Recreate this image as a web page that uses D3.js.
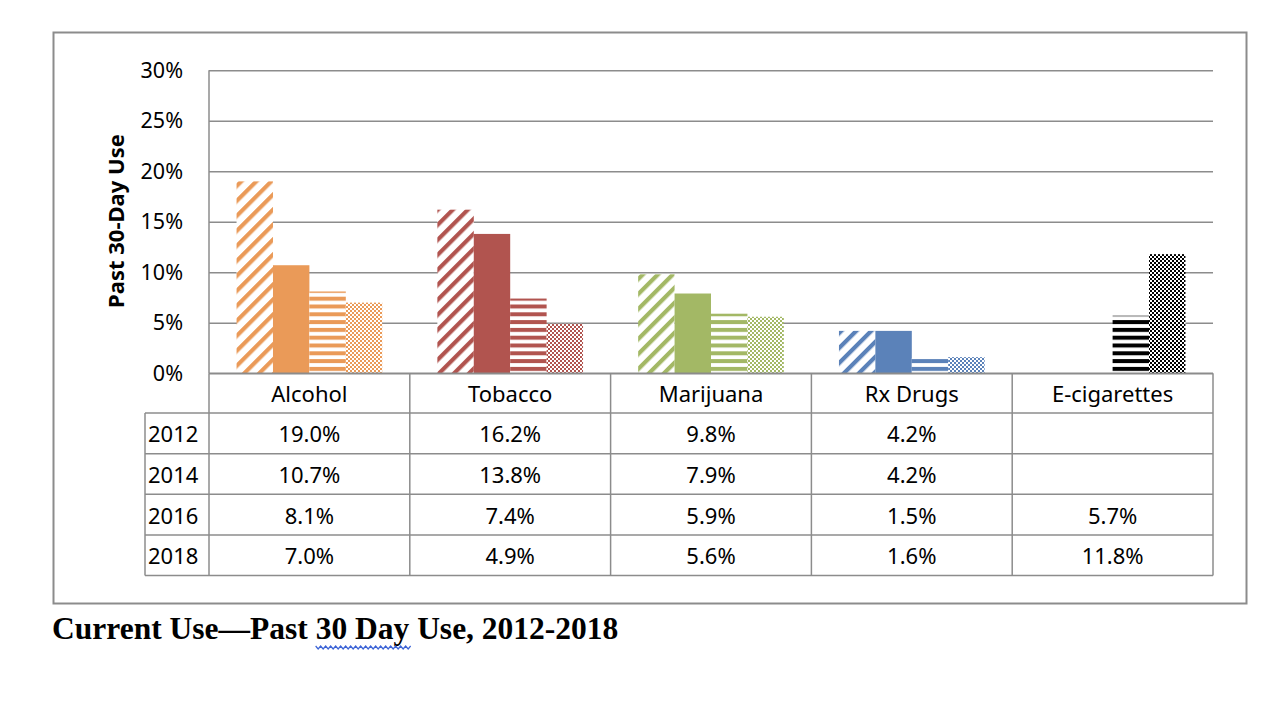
<!DOCTYPE html>
<html><head><meta charset="utf-8">
<script src="https://cdn.jsdelivr.net/npm/d3@7"></script>
<style>body{margin:0;background:#fff} svg{display:block}</style>
</head><body><svg id="c" width="1288" height="710"></svg>
<script>
const categories = ["Alcohol","Tobacco","Marijuana","Rx Drugs","E-cigarettes"];
const years = ["2012","2014","2016","2018"];
const v2012 = [19.0,16.2,9.8,4.2,null];
const v2014 = [10.7,13.8,7.9,4.2,null];
const v2016 = [8.1,7.4,5.9,1.5,5.7];
const v2018 = [7.0,4.9,5.6,1.6,11.8];
const yTicks = [0,5,10,15,20,25,30];
const categoryColors = ["#EA9A58","#B1544F","#A3B865","#5B82B9","#000000"];
const patternKinds = ["diag","solid","horiz","check"];
const titleText = "Current Use—Past 30 Day Use, 2012-2018";
const yTitle = "Past 30-Day Use";

const series = [v2012, v2014, v2016, v2018];
const svg = d3.select("#c");
const gray = "#8c8c8c";
const L = 209, R = 1213, T = 70.3, B = 373.3;
const font = "'Noto Sans', sans-serif";

// outer frame
svg.append("rect").attr("x",53.5).attr("y",32.5).attr("width",1193).attr("height",571)
  .attr("fill","none").attr("stroke",gray).attr("stroke-width",2);

// patterns
const defs = svg.append("defs");
categoryColors.forEach((col,ci)=>{
  const pd = defs.append("pattern").attr("id",`p${ci}_diag`).attr("patternUnits","userSpaceOnUse")
    .attr("width",10.6).attr("height",10.6).attr("patternTransform","rotate(-45)");
  pd.append("rect").attr("width",10.6).attr("height",10.6).attr("fill","#fff");
  pd.append("rect").attr("width",10.6).attr("height",4.2).attr("fill",col);
  const ph = defs.append("pattern").attr("id",`p${ci}_horiz`).attr("patternUnits","userSpaceOnUse")
    .attr("width",8).attr("height",7.8).attr("y",0.3);
  ph.append("rect").attr("width",8).attr("height",7.8).attr("fill","#fff");
  ph.append("rect").attr("width",8).attr("height",4).attr("fill",col);
  const pc = defs.append("pattern").attr("id",`p${ci}_check`).attr("patternUnits","userSpaceOnUse")
    .attr("width",4).attr("height",4);
  pc.append("rect").attr("width",4).attr("height",4).attr("fill","#fff");
  pc.append("rect").attr("width",2).attr("height",2).attr("fill",col);
  pc.append("rect").attr("x",2).attr("y",2).attr("width",2).attr("height",2).attr("fill",col);
});

const x0 = d3.scaleBand().domain(categories).range([L,R]).paddingInner(0.2745).paddingOuter(0.13725);
const x1 = d3.scaleBand().domain(years).range([0, x0.bandwidth()]);
const y = d3.scaleLinear().domain([0,30]).range([B,T]);

// gridlines + tick labels
const yAxis = d3.axisLeft(y).tickValues(yTicks).tickSize(-(R-L)).tickPadding(26).tickFormat(d=>d+"%");
const ga = svg.append("g").attr("transform",`translate(${L},0)`).call(yAxis);
ga.select(".domain").remove();
ga.selectAll(".tick line").attr("stroke",gray).attr("stroke-width",1.5);
ga.selectAll(".tick text").attr("font-family",font).attr("font-size",21.5).attr("fill","#000");
svg.append("line").attr("x1",L).attr("x2",L).attr("y1",T).attr("y2",B).attr("stroke",gray).attr("stroke-width",1.5);

// bars
const data = [];
categories.forEach((c,ci)=>{
  years.forEach((yr,yi)=>{
    const v = series[yi][ci];
    if(v!=null) data.push({c,ci,yr,yi,v});
  });
});
svg.append("g").selectAll("rect").data(data).join("rect")
  .attr("x",d=>x0(d.c)+x1(d.yr))
  .attr("width",x1.bandwidth())
  .attr("y",d=>y(d.v))
  .attr("height",d=>y(0)-y(d.v))
  .attr("fill",d=>patternKinds[d.yi]==="solid" ? categoryColors[d.ci] : `url(#p${d.ci}_${patternKinds[d.yi]})`);

// data table
const halfGap = (x0.step()-x0.bandwidth())/2;
const edges = categories.map(c=>x0(c)-halfGap).concat([R]);
const headTop = B, headBot = 413, tableBot = 575.5, yearLeft = 145;
const rowH = (tableBot-headBot)/years.length;
const tg = svg.append("g");
const line = (x1_,y1_,x2_,y2_)=>tg.append("line").attr("x1",x1_).attr("y1",y1_).attr("x2",x2_).attr("y2",y2_)
  .attr("stroke",gray).attr("stroke-width",1.5);
line(L,headTop,R,headTop);
for(let i=0;i<=years.length;i++) line(yearLeft,headBot+i*rowH,R,headBot+i*rowH);
edges.forEach(e=>line(e,headTop,e,tableBot));
line(yearLeft,headBot,yearLeft,tableBot);

const tf = 22;
tg.selectAll(".cat").data(categories).join("text").attr("class","cat")
  .attr("x",c=>x0(c)+x0.bandwidth()/2).attr("y",(headTop+headBot)/2)
  .attr("text-anchor","middle").attr("dominant-baseline","central")
  .attr("font-family",font).attr("font-size",tf).text(c=>c);
tg.selectAll(".yr").data(years).join("text").attr("class","yr")
  .attr("x",yearLeft+3).attr("y",(d,i)=>headBot+rowH*(i+0.5))
  .attr("dominant-baseline","central")
  .attr("font-family",font).attr("font-size",tf).text(d=>d);
const cells = [];
years.forEach((yr,yi)=>categories.forEach((c,ci)=>{
  const v = series[yi][ci];
  if(v!=null) cells.push({c,yi,v});
}));
tg.selectAll(".val").data(cells).join("text").attr("class","val")
  .attr("x",d=>x0(d.c)+x0.bandwidth()/2).attr("y",d=>headBot+rowH*(d.yi+0.5))
  .attr("text-anchor","middle").attr("dominant-baseline","central")
  .attr("font-family",font).attr("font-size",tf).text(d=>d.v.toFixed(1)+"%");

// y title
svg.append("text").attr("transform","translate(124,221) rotate(-90)")
  .attr("text-anchor","middle").attr("font-family",font).attr("font-weight","bold")
  .attr("font-size",22).text(yTitle);

// caption
const capX = 52;
const cap = svg.append("text").attr("x",capX).attr("y",639)
  .attr("font-family","'Liberation Serif', 'Times New Roman', serif").attr("font-weight","bold")
  .attr("font-size",31.5).text(titleText);
const node = cap.node();
const start = titleText.indexOf("30 Day");
const sx = capX + node.getSubStringLength(0,start);
const sw = node.getSubStringLength(start,6);
let dPath = `M${sx},646`;
for(let xx=sx, k=0; xx<sx+sw; xx+=2.5, k++) dPath += ` L${xx+2.5},${k%2? 646:649}`;
svg.append("path").attr("d",dPath).attr("fill","none").attr("stroke","#3b63d6").attr("stroke-width",1.2);
</script></body></html>
